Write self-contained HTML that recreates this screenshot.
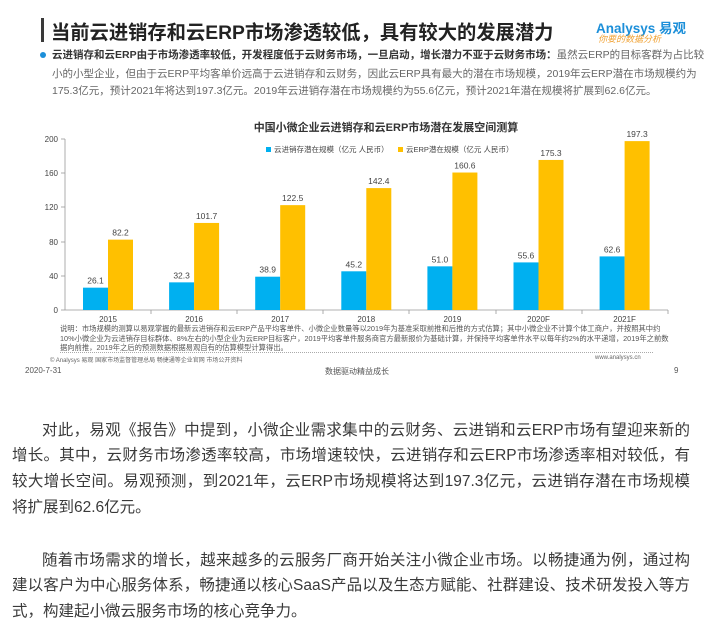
<!DOCTYPE html>
<html><head><meta charset="utf-8"><style>
*{margin:0;padding:0}
body{width:723px;height:640px;background:#fff;position:relative;overflow:hidden;font-family:"Liberation Sans","Noto Sans CJK SC",sans-serif}
.abs{position:absolute;white-space:nowrap}
.p{position:absolute;left:12px;width:678px;font-size:15.5px;color:#3a3a3a;text-align:justify;text-align-last:justify;white-space:nowrap;line-height:20px}
.p.l{text-align-last:left}
.b{position:absolute;left:52px;width:625px;font-size:10.5px;color:#666;text-align-last:justify;white-space:nowrap;line-height:14px}
</style></head><body>
<div class="abs" style="left:41px;top:18px;width:3px;height:24px;background:#3a3a3a"></div>
<div class="abs" style="left:51px;top:17px;font-size:19.3px;font-weight:bold;color:#222;">当前云进销存和云ERP市场渗透较低，具有较大的发展潜力</div>
<div class="abs" style="left:596px;top:17px;font-size:13.5px;font-weight:bold;color:#1c8fd9;">Analysys 易观</div>
<div class="abs" style="left:598px;top:32px;font-size:9px;color:#f0a030;font-style:italic">你要的数据分析</div>
<div class="abs" style="left:40px;top:52px;width:6px;height:6px;border-radius:3px;background:#1c8fd9"></div>
<div class="b" style="top:48px"><b style="color:#333">云进销存和云ERP由于市场渗透率较低，开发程度低于云财务市场，一旦启动，增长潜力不亚于云财务市场：</b>虽然云ERP的目标客群为占比较</div>
<div class="b" style="top:67px">小的小型企业，但由于云ERP平均客单价远高于云进销存和云财务，因此云ERP具有最大的潜在市场规模，2019年云ERP潜在市场规模约为</div>
<div class="b" style="top:84px;text-align-last:left">175.3亿元，预计2021年将达到197.3亿元。2019年云进销存潜在市场规模约为55.6亿元，预计2021年潜在规模将扩展到62.6亿元。</div>

<svg class="abs" style="left:0;top:0" width="723" height="400" font-family="Liberation Sans,Noto Sans CJK SC,sans-serif">
<text x="386" y="131" font-size="11" font-weight="bold" fill="#333" text-anchor="middle">中国小微企业云进销存和云ERP市场潜在发展空间测算</text>
<g font-size="8" fill="#444" text-anchor="end">
<text x="58" y="142">200</text><text x="58" y="176">160</text><text x="58" y="210">120</text><text x="58" y="245">80</text><text x="58" y="279">40</text><text x="58" y="313">0</text>
</g>
<line x1="65" y1="139" x2="65" y2="310" stroke="#999" stroke-width="0.8"/>
<line x1="65" y1="310" x2="668" y2="310" stroke="#999" stroke-width="0.8"/>
<g stroke="#999" stroke-width="0.8">
<line x1="65" y1="139" x2="61" y2="139"/><line x1="65" y1="173" x2="61" y2="173"/><line x1="65" y1="207" x2="61" y2="207"/><line x1="65" y1="242" x2="61" y2="242"/><line x1="65" y1="276" x2="61" y2="276"/><line x1="65" y1="310" x2="61" y2="310"/>
<line x1="151" y1="310" x2="151" y2="314"/><line x1="237" y1="310" x2="237" y2="314"/><line x1="323" y1="310" x2="323" y2="314"/><line x1="409" y1="310" x2="409" y2="314"/><line x1="496" y1="310" x2="496" y2="314"/><line x1="582" y1="310" x2="582" y2="314"/><line x1="668" y1="310" x2="668" y2="314"/>
</g>
<rect x="266" y="147" width="5" height="5" fill="#00b0f0"/>
<text x="274" y="152" font-size="7.5" fill="#444">云进销存潜在规模（亿元 人民币）</text>
<rect x="398" y="147" width="5" height="5" fill="#ffc000"/>
<text x="406" y="152" font-size="7.5" fill="#444">云ERP潜在规模（亿元 人民币）</text>
<g id="bars"></g>
</svg>
<script>
var d=[["2015",26.1,82.2],["2016",32.3,101.7],["2017",38.9,122.5],["2018",45.2,142.4],["2019","51.0",160.6],["2020F",55.6,175.3],["2021F",62.6,197.3]];
var s="";d.forEach(function(r,i){var c=65+86.1*i+43;var a=parseFloat(r[1]),b=r[2];
var ya=310-a*0.856,yb=310-b*0.856;
s+='<rect x="'+(c-25)+'" y="'+ya+'" width="25" height="'+(310-ya)+'" fill="#00b0f0"/>';
s+='<rect x="'+c+'" y="'+yb+'" width="25" height="'+(310-yb)+'" fill="#ffc000"/>';
s+='<text x="'+(c-12.5)+'" y="'+(ya-4)+'" font-size="8.5" fill="#444" text-anchor="middle">'+r[1]+'</text>';
s+='<text x="'+(c+12.5)+'" y="'+(yb-4)+'" font-size="8.5" fill="#444" text-anchor="middle">'+b+'</text>';
s+='<text x="'+c+'" y="322" font-size="8" fill="#444" text-anchor="middle">'+r[0]+'</text>';});
document.getElementById("bars").innerHTML=s;
</script>
<div class="abs" style="left:60px;top:324px;font-size:7.3px;color:#555;line-height:9.5px">说明：市场规模的测算以易观掌握的最新云进销存和云ERP产品平均客单件、小微企业数量等以2019年为基准采取前推和后推的方式估算；其中小微企业不计算个体工商户，并按照其中约<br>10%小微企业为云进销存目标群体、8%左右的小型企业为云ERP目标客户，2019平均客单件服务商官方最新报价为基础计算，并保持平均客单件水平以每年约2%的水平递增，2019年之前数<br>据向前推，2019年之后的预测数据根据易观自有的估算模型计算得出。</div>
<div class="abs" style="left:60px;top:352px;width:593px;border-top:1px dotted #aaa"></div>
<div class="abs" style="left:50px;top:355px;font-size:6px;color:#666">© Analysys 易观 国家市场监督管理总局 畅捷通等企业官网 市场公开资料</div>
<div class="abs" style="left:595px;top:355px;font-size:6px;color:#666">www.analysys.cn</div>
<div class="abs" style="left:25px;top:366px;font-size:8px;color:#555">2020-7-31</div>
<div class="abs" style="left:325px;top:366px;font-size:8px;color:#555">数据驱动精益成长</div>
<div class="abs" style="left:674px;top:366px;font-size:8px;color:#555">9</div>

<div class="p" style="top:421px;left:42px;width:648px">对此，易观《报告》中提到，小微企业需求集中的云财务、云进销和云ERP市场有望迎来新的</div>
<div class="p" style="top:446px">增长。其中，云财务市场渗透率较高，市场增速较快，云进销存和云ERP市场渗透率相对较低，有</div>
<div class="p" style="top:472px">较大增长空间。易观预测，到2021年，云ERP市场规模将达到197.3亿元，云进销存潜在市场规模</div>
<div class="p l" style="top:498px">将扩展到62.6亿元。</div>
<div class="p" style="top:551px;left:42px;width:648px">随着市场需求的增长，越来越多的云服务厂商开始关注小微企业市场。以畅捷通为例，通过构</div>
<div class="p" style="top:576px">建以客户为中心服务体系，畅捷通以核心SaaS产品以及生态方赋能、社群建设、技术研发投入等方</div>
<div class="p l" style="top:602px">式，构建起小微云服务市场的核心竞争力。</div>
</body></html>
